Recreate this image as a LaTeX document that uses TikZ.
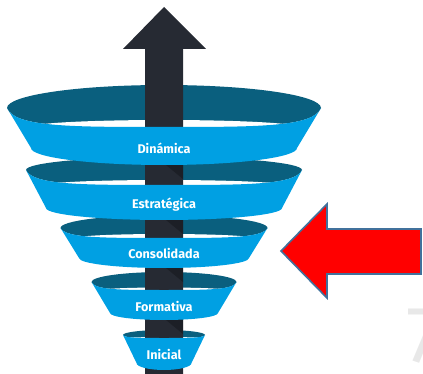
\documentclass[tikz,border=0pt]{standalone}
\usepackage{fontspec}
\setmainfont{Fira Sans}
\usetikzlibrary{calc}
\definecolor{ringblue}{HTML}{00A0E3}
\definecolor{ringdark}{HTML}{0A5F7E}
\definecolor{arrowdark}{HTML}{262A33}
\definecolor{pointerred}{HTML}{FF0000}
\definecolor{pointerrim}{HTML}{41719C}

\begin{document}
\begin{tikzpicture}[x=1pt,y=-1pt,
  band/.style={fill=ringblue},
  backwall/.style={fill=ringdark},
  stagelabel/.style={text=white,inner sep=0pt,font=\fontsize{12.6}{14}\selectfont\bfseries}]
  \useasboundingbox (0,0) rectangle (423,374);
  \clip (0,0) rectangle (423,374);
  % inner walls and openings of the rings
  \foreach \yc/\rx/\ry/\dep/\lens in {108/157/23/19/7, 170/138/13/15/5, 228/103.5/13/10/4, 282/72.5/10/8/2.5, 335/41/5/3/1}
    {\fill[backwall] (164-\rx,\yc) arc[start angle=180,end angle=360,x radius=\rx,y radius=\ry]
       .. controls (164+0.95*\rx,\yc+\dep) and (164+0.6*\rx,\yc+\dep) .. (164,\yc+\dep)
       .. controls (164-0.6*\rx,\yc+\dep) and (164-0.95*\rx,\yc+\dep) .. cycle;
     \fill[white] (164,\yc+\dep) ellipse[x radius=0.85*\rx,y radius=\lens];}
  % the rising arrow
  \fill[arrowdark] (145,380) -- (145,49) -- (123,49) -- (164,7) -- (206,49) -- (183,49) -- (183,380) -- cycle;
  \foreach \yb in {165,220,268,320}
    \fill[black,opacity=.25] (166,\yb) -- (183,\yb) -- (183,\yb+14) -- cycle;
  % front bands with their labels
  \foreach \yc/\rx/\dep/\yb/\rb/\rby/\name/\txt/\ty in {%
      108/157/19/148/133/17/dinamica/Dinámica/148,
      170/138/15/208/118/12/estrategica/Estratégica/205,
      228/103.5/10/258/85/10/consolidada/Consolidada/253,
      282/72.5/8/313/54/7/formativa/Formativa/306,
      335/41/3/363/27.5/7/inicial/Inicial/354}
    {\fill[band] (164-\rx,\yc)
       .. controls (164-0.95*\rx,\yc+\dep) and (164-0.6*\rx,\yc+\dep) .. (164,\yc+\dep)
       .. controls (164+0.6*\rx,\yc+\dep) and (164+0.95*\rx,\yc+\dep) .. (164+\rx,\yc)
       -- (164+\rb,\yb) arc[start angle=0,end angle=180,x radius=\rb,y radius=\rby] -- cycle;
     \node[stagelabel] (\name) at (164,\ty) {\txt};}
  % pointer to the current stage
  \draw[fill=pointerred,draw=pointerrim,line width=1.6pt,line join=miter]
    (281,251) -- (327,204) -- (327,229) -- (421,229) -- (421,274) -- (327,274) -- (327,298) -- cycle;
  \node[text=gray!18,inner sep=0pt,anchor=north west,font=\fontsize{80}{80}\selectfont] (seven) at (406,309) {7};
\end{tikzpicture}
\end{document}
